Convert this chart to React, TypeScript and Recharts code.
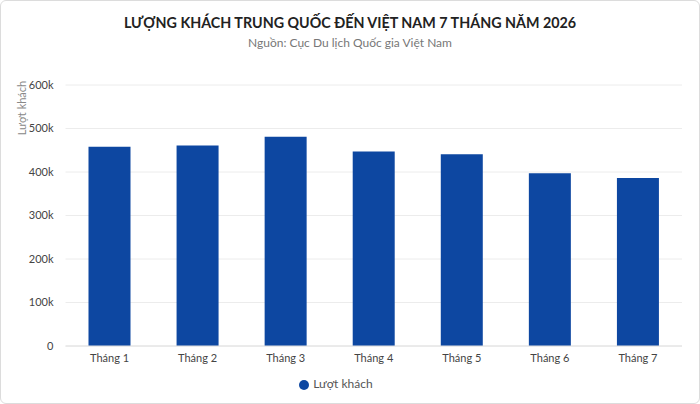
import { BarChart, Bar, XAxis, YAxis, CartesianGrid, Legend } from 'recharts'

const months = ['Tháng 1', 'Tháng 2', 'Tháng 3', 'Tháng 4', 'Tháng 5', 'Tháng 6', 'Tháng 7']
const visitors = [458000, 461000, 481000, 447000, 441000, 397000, 386000]
const yTicks = [0, 100000, 200000, 300000, 400000, 500000, 600000]

const data = months.map((m, i) => ({ month: m, visitors: visitors[i] }))

const font = 'Lato, "Noto Sans", sans-serif'
const barColor = '#0D47A1'

const formatTick = (v: number) => (v === 0 ? '0' : `${v / 1000}k`)

function AxisTitle(props: any) {
  const vb = props.viewBox || { x: 0, y: 0 }
  const x = vb.x + 23
  const y = vb.y + 23
  return (
    <text
      x={x}
      y={y}
      transform={`rotate(-90, ${x}, ${y})`}
      textAnchor="middle"
      dominantBaseline="middle"
      fontSize={11}
      fill="#888"
      fontFamily={font}
    >
      Lượt khách
    </text>
  )
}

export default function App() {
  return (
    <div
      style={{
        position: 'relative',
        width: 700,
        height: 404,
        boxSizing: 'border-box',
        border: '1px solid #dcdcdc',
        borderRadius: 6,
        background: '#fff',
        fontFamily: font,
        overflow: 'hidden',
      }}
    >
      <style>{'body{margin:0}'}</style>
      <div
        style={{
          position: 'absolute',
          top: 13,
          width: '100%',
          textAlign: 'center',
          fontSize: 14.3,
          fontWeight: 700,
          color: '#222',
        }}
      >
        LƯỢNG KHÁCH TRUNG QUỐC ĐẾN VIỆT NAM 7 THÁNG NĂM 2026
      </div>
      <div
        style={{
          position: 'absolute',
          top: 34,
          width: '100%',
          textAlign: 'center',
          fontSize: 12,
          color: '#777',
        }}
      >
        Nguồn: Cục Du lịch Quốc gia Việt Nam
      </div>
      <div style={{ position: 'absolute', left: -1, top: -1 }}>
        <BarChart
          width={700}
          height={404}
          data={data}
          margin={{ top: 85, right: 18, left: 0, bottom: 13 }}
        >
          <CartesianGrid vertical={false} stroke="#ececec" />
          <XAxis
            dataKey="month"
            tickLine={false}
            axisLine={{ stroke: '#e0e0e0' }}
            tick={{ fontSize: 11, fill: '#444', fontFamily: font }}
          />
          <YAxis
            width={65.5}
            domain={[0, 600000]}
            ticks={yTicks}
            tickFormatter={formatTick}
            tickLine={false}
            axisLine={false}
            tickMargin={6}
            tick={{ fontSize: 11, fill: '#444', fontFamily: font }}
            label={<AxisTitle />}
          />
          <Legend
            verticalAlign="bottom"
            iconType="circle"
            iconSize={10}
            wrapperStyle={{ fontSize: 12, fontFamily: font, color: '#555' }}
            formatter={(value) => <span style={{ color: '#555' }}>{value}</span>}
          />
          <Bar
            dataKey="visitors"
            name="Lượt khách"
            fill={barColor}
            barSize={42}
            isAnimationActive={false}
          />
        </BarChart>
      </div>
    </div>
  )
}
